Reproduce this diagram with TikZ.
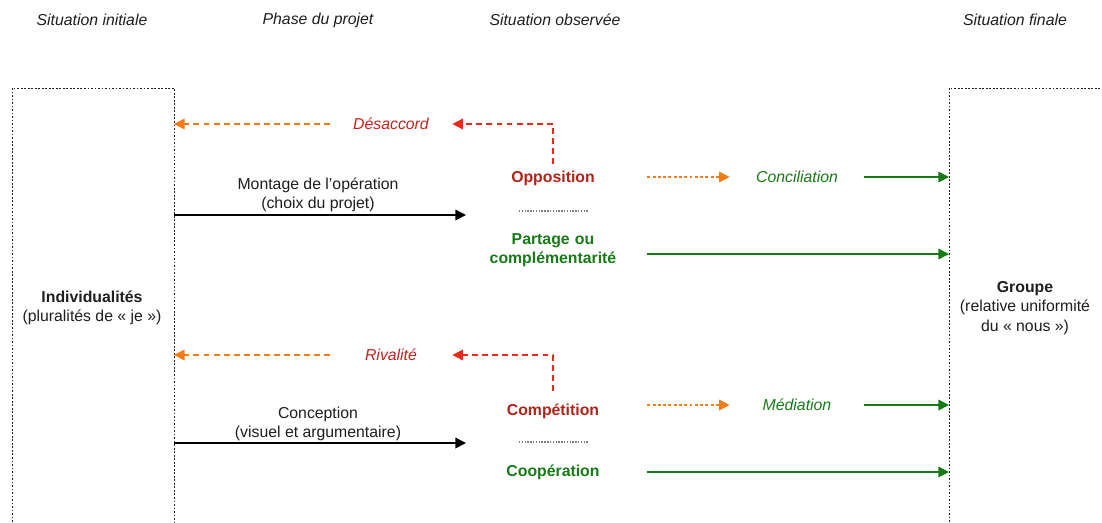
\documentclass[tikz,border=0pt]{standalone}
\usepackage{fontspec}
\setmainfont{Liberation Sans}
\usetikzlibrary{arrows.meta}
\definecolor{txtblack}{RGB}{30,30,30}
\definecolor{arrorange}{RGB}{245,124,20}
\definecolor{arrred}{RGB}{235,40,25}
\definecolor{darkred}{RGB}{178,34,24}
\definecolor{txtred}{RGB}{200,32,28}
\definecolor{vert}{RGB}{22,122,22}

\begin{document}
\begin{tikzpicture}[x=0.02cm,y=-0.02cm,>={Triangle[length=6pt,width=6pt]},
  every node/.style={font=\fontsize{9}{11}\selectfont,text=txtblack},
  head/.style={font=\fontsize{9}{11}\selectfont\itshape},
  obs/.style={font=\fontsize{9}{11}\selectfont\bfseries,text width=3.76cm,align=center,inner xsep=0pt,inner ysep=3.8pt},
  issue/.style={font=\fontsize{9}{11}\selectfont\itshape,text width=2.44cm,align=center,inner xsep=0pt,text=txtred},
  resol/.style={font=\fontsize{9}{11}\selectfont\itshape,text width=2.68cm,align=center,inner xsep=0pt,text=vert},
  boxline/.style={txtblack,line width=0.5pt,dash pattern=on 1pt off 1pt},
  sep/.style={gray,line width=0.7pt,dash pattern=on 0.8pt off 0.8pt},
  orgdash/.style={arrorange,line width=0.9pt,dash pattern=on 3.4pt off 2.3pt,->},
  reddash/.style={arrred,line width=0.9pt,dash pattern=on 3.4pt off 2.3pt,->},
  orgdot/.style={arrorange,line width=0.9pt,dash pattern=on 1.7pt off 1.3pt,->},
  grn/.style={vert,line width=0.9pt,->},
  blk/.style={black,line width=0.9pt,->}]
  \useasboundingbox (0,0) rectangle (1102,522);

  % titres
  \node[head] (h1) at (92,20) {Situation initiale};
  \node[head] (h2) at (318,20) {Phase du projet};
  \node[head] (h3) at (555,20) {Situation observée};
  \node[head] (h4) at (1015,20) {Situation finale};

  % cadres
  \coordinate (iniE) at (174,88);
  \coordinate (finW) at (949,88);
  \draw[boxline] (12,522) |- (iniE) -- (174,522);
  \draw[boxline] (949,522) -- (finW) -- (1102,88);
  \node[align=center] (indiv) at (92,308) {\textbf{Individualités}\\(pluralités de «~je~»)};
  \node[align=center] (grp) at (1025,308) {\textbf{Groupe}\\(relative uniformité\\du «~nous~»)};

  % premiere phase
  \node[obs,text=darkred] (opp) at (553,178) {Opposition};
  \node[obs,text=vert] (part) at (553,250) {Partage ou\\complémentarité};
  \draw[sep] (519,211) -- (589,211);
  \node[issue] (desac) at (391,124) {Désaccord};
  \node[resol] (concil) at (797,177) {Conciliation};
  \coordinate (m1) at (466,215);
  \node[align=center] (mont) at (318,195) {Montage de l’opération\\(choix du projet)};
  \draw[blk] (iniE |- m1) -- (m1);
  \draw[reddash] (opp.north) |- (desac.east);
  \draw[orgdash] (desac.west) -- (desac.west -| iniE);
  \draw[orgdot] (opp.east |- concil.west) -- (concil.west);
  \draw[grn] (concil.east) -- (concil.east -| finW);
  \draw[grn] ([yshift=-0.08cm]part.east) -- ([yshift=-0.08cm]part.east -| finW);

  % seconde phase
  \node[obs,text=darkred] (comp) at (553,411) {Compétition};
  \node[obs,text=vert] (coop) at (553,472) {Coopération};
  \draw[sep] (519,442) -- (589,442);
  \node[issue] (riv) at (391,355) {Rivalité};
  \node[resol] (medi) at (797,405) {Médiation};
  \coordinate (m2) at (466,443);
  \node[align=center] (conc) at (318,424) {Conception\\(visuel et argumentaire)};
  \draw[blk] (iniE |- m2) -- (m2);
  \draw[reddash] ([yshift=0.12cm]comp.north) |- (riv.east);
  \draw[orgdash] (riv.west) -- (riv.west -| iniE);
  \draw[orgdot] (comp.east |- medi.west) -- (medi.west);
  \draw[grn] (medi.east) -- (medi.east -| finW);
  \draw[grn] (coop.east) -- (coop.east -| finW);
\end{tikzpicture}
\end{document}
